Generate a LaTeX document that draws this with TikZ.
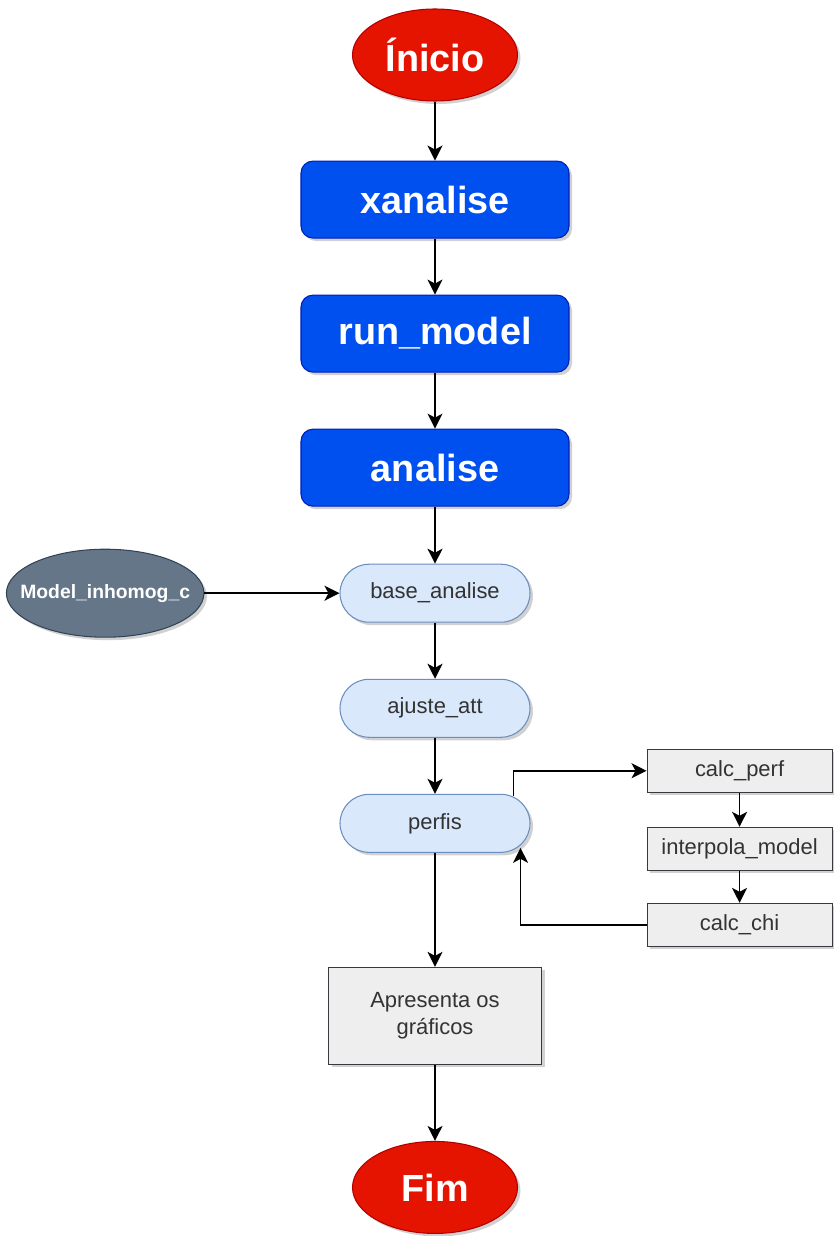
\documentclass[tikz,border=0pt]{standalone}
\usepackage{fontspec}
\setmainfont{Liberation Sans}
\usepackage{xcolor}
\usepackage{tikz}
\usetikzlibrary{shapes.geometric,arrows.meta,positioning,shadows,calc}
\definecolor{fcred}{HTML}{E51400}
\definecolor{fcredline}{HTML}{B20000}
\definecolor{fcblue}{HTML}{0050EF}
\definecolor{fcblueline}{HTML}{001DBC}
\definecolor{fclight}{HTML}{DAE8FC}
\definecolor{fclightline}{HTML}{6C8EBF}
\definecolor{fcslate}{HTML}{647687}
\definecolor{fcslateline}{HTML}{314354}
\definecolor{fcgrey}{HTML}{EEEEEE}
\definecolor{fcgreyline}{HTML}{36393D}
\definecolor{fctext}{HTML}{333333}

\begin{document}
\begin{tikzpicture}[
  node distance=11.2mm,
  shade/.style={drop shadow={shadow xshift=0.6mm, shadow yshift=-0.6mm, opacity=0.18, fill=black}},
  terminal/.style={ellipse, shade, fill=fcred, draw=fcredline, line width=0.6pt,
                   minimum width=33mm, minimum height=18.4mm, inner sep=0pt,
                   text=white, font=\fontsize{21.5}{24}\selectfont\bfseries},
  routine/.style={rectangle, rounded corners=2.4mm, shade, fill=fcblue, draw=fcblueline,
                  line width=0.6pt, minimum width=53.6mm, minimum height=15.4mm,
                  text=white, font=\fontsize{21.5}{24}\selectfont\bfseries},
  stage/.style={rectangle, rounded corners=5.8mm, shade, fill=fclight, draw=fclightline,
                line width=0.6pt, minimum width=38mm, minimum height=11.6mm,
                text=fctext, font=\fontsize{12.5}{15}\selectfont},
  sub/.style={rectangle, shade, fill=fcgrey, draw=fcgreyline, line width=0.6pt,
              minimum width=37mm, minimum height=8.6mm, inner sep=1pt,
              text=fctext, font=\fontsize{12.5}{15}\selectfont},
  datafile/.style={ellipse, shade, fill=fcslate, draw=fcslateline, line width=0.6pt,
                   minimum width=39.2mm, minimum height=17.6mm, inner xsep=-3mm, inner ysep=0pt,
                   text=white, font=\fontsize{11}{12}\selectfont\bfseries},
  arr/.style={-{Stealth[length=3mm, width=3mm, inset=0.8mm]}, black, line width=0.85pt}
]
\useasboundingbox (0,0) rectangle (166.6mm,-247.2mm);

\node[terminal] (inicio) at (87mm,-11mm) {Ínicio};
\node[routine, below=11.8mm of inicio] (xanalise) {xanalise};
\node[routine, below=of xanalise] (runmodel) {run\_model};
\node[routine, below=of runmodel] (analise) {analise};
\node[stage, below=11.4mm of analise] (base) {base\_analise};
\node[stage, below=of base] (ajuste) {ajuste\_att};
\node[stage, below=of ajuste] (perfis) {perfis};

% input model
\node[datafile, left=27mm of base] (model) {Model\_inhomog\_c};

% profile loop
\node[sub, above right=0.2mm and 23.2mm of perfis] (calcperf) {calc\_perf};
\node[sub, below=6.8mm of calcperf] (interp) {interpola\_model};
\node[sub, below=6.4mm of interp] (calcchi) {calc\_chi};

\node[sub, below=22.8mm of perfis, minimum width=42.6mm, minimum height=19.4mm,
      align=center, font=\fontsize{12.5}{15.3}\selectfont] (graf)
  {Apresenta os\\gráficos};
\node[terminal, below=15.2mm of graf] (fim) {Fim};

\draw[arr] (inicio) -- (xanalise);
\draw[arr] (xanalise) -- (runmodel);
\draw[arr] (runmodel) -- (analise);
\draw[arr] (analise) -- (base);
\draw[arr] (model) -- (base);
\draw[arr] (base) -- (ajuste);
\draw[arr] (ajuste) -- (perfis);
\draw[arr] ([xshift=-3.4mm,yshift=-0.4mm]perfis.north east) |- (calcperf);
\draw[arr] (calcperf) -- (interp);
\draw[arr] (interp) -- (calcchi);
\draw[arr] (calcchi) -| ([xshift=-2mm,yshift=1mm]perfis.south east);
\draw[arr] (perfis) -- (graf);
\draw[arr] (graf) -- (fim);

\end{tikzpicture}
\end{document}
